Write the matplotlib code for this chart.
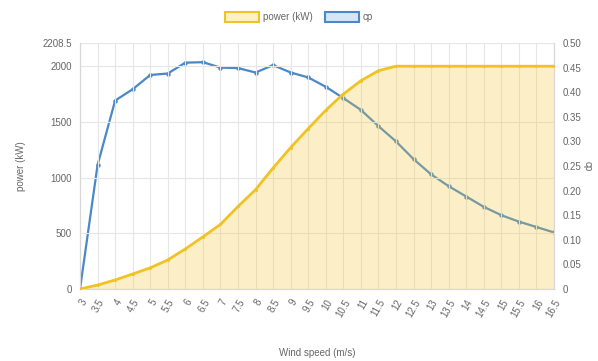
import matplotlib.pyplot as plt
from matplotlib.patches import Patch

plt.rcParams['font.family'] = ['Liberation Sans', 'DejaVu Sans']

wind_speed = ['3', '3.5', '4', '4.5', '5', '5.5', '6', '6.5', '7', '7.5',
              '8', '8.5', '9', '9.5', '10', '10.5', '11', '11.5', '12', '12.5',
              '13', '13.5', '14', '14.5', '15', '15.5', '16', '16.5']
power_kw = [0, 36, 81, 135, 190, 261, 360, 468, 580, 741,
            892, 1087, 1270, 1440, 1605, 1750, 1870, 1960, 2000, 2000,
            2000, 2000, 2000, 2000, 2000, 2000, 2000, 2000]
cp = [0, 0.252, 0.383, 0.406, 0.435, 0.438, 0.460, 0.461, 0.450, 0.449,
      0.440, 0.455, 0.440, 0.430, 0.411, 0.388, 0.364, 0.331, 0.300, 0.264,
      0.233, 0.209, 0.188, 0.167, 0.150, 0.137, 0.126, 0.115]

power_ticks = [0, 500, 1000, 1500, 2000, 2208.5]
cp_ticks = [0, 0.05, 0.10, 0.15, 0.20, 0.25, 0.30, 0.35, 0.40, 0.45, 0.50]

yellow = '#f0c325'
yellow_fill = (0.96, 0.78, 0.2, 0.27)
blue = '#4a88c8'
grid_c = '#e6e6e6'
text_c = '#666666'

fig = plt.figure(figsize=(5.98, 3.61), dpi=100)
ax = fig.add_axes([0.1338, 0.1994, 0.7926, 0.6815])
ax2 = ax.twinx()
# power sits above cp so its translucent fill tints the cp line
ax.set_zorder(ax2.get_zorder() + 1)
ax.patch.set_visible(False)

x = list(range(len(wind_speed)))

ax2.plot(x, cp, color=blue, lw=1.6, marker='o', ms=2.2, zorder=3)
ax.fill_between(x, power_kw, 0, color=yellow_fill, lw=0, zorder=2)
ax.plot(x, power_kw, color=yellow, lw=2.0, marker='o', ms=1.2, zorder=3)

ax.set_xlim(0, len(x) - 1)
ax.set_ylim(0, 2208.5)
ax2.set_ylim(0, 0.5)

ax.set_xticks(x)
ax.set_xticklabels(wind_speed, rotation=60, ha='right', rotation_mode='anchor')
ax.set_yticks(power_ticks)
ax.set_yticklabels(['0', '500', '1000', '1500', '2000', '2208.5'])
ax2.set_yticks(cp_ticks)
ax2.set_yticklabels(['0', '0.05', '0.10', '0.15', '0.20', '0.25', '0.30',
                     '0.35', '0.40', '0.45', '0.50'])

for a in (ax, ax2):
    a.tick_params(labelsize=7, colors=text_c, length=0, pad=6)
    for s in a.spines.values():
        s.set_color('#d8d8d8')
        s.set_linewidth(0.8)
    a.spines['top'].set_visible(False)

ax2.grid(False)
ax.grid(True, color=grid_c, lw=0.8)
ax.set_axisbelow(True)

ax.set_xlabel('Wind speed (m/s)', fontsize=7, color=text_c, labelpad=21)
ax.set_ylabel('power (kW)', fontsize=7, color=text_c, labelpad=12)
ax2.set_ylabel('cp', fontsize=7, color=text_c, rotation=-90, labelpad=8)

handles = [Patch(facecolor='#fdf0c8', edgecolor=yellow, lw=1.5, label='power (kW)'),
           Patch(facecolor='#d7e6f5', edgecolor=blue, lw=1.5, label='cp')]
fig.legend(handles=handles, loc='upper center', bbox_to_anchor=(0.5, 0.99),
           ncol=2, frameon=False, fontsize=7, labelcolor=text_c,
           handlelength=3.5, handleheight=1.1, columnspacing=1.2, handletextpad=0.4)

fig.savefig('out.png', dpi=100)
